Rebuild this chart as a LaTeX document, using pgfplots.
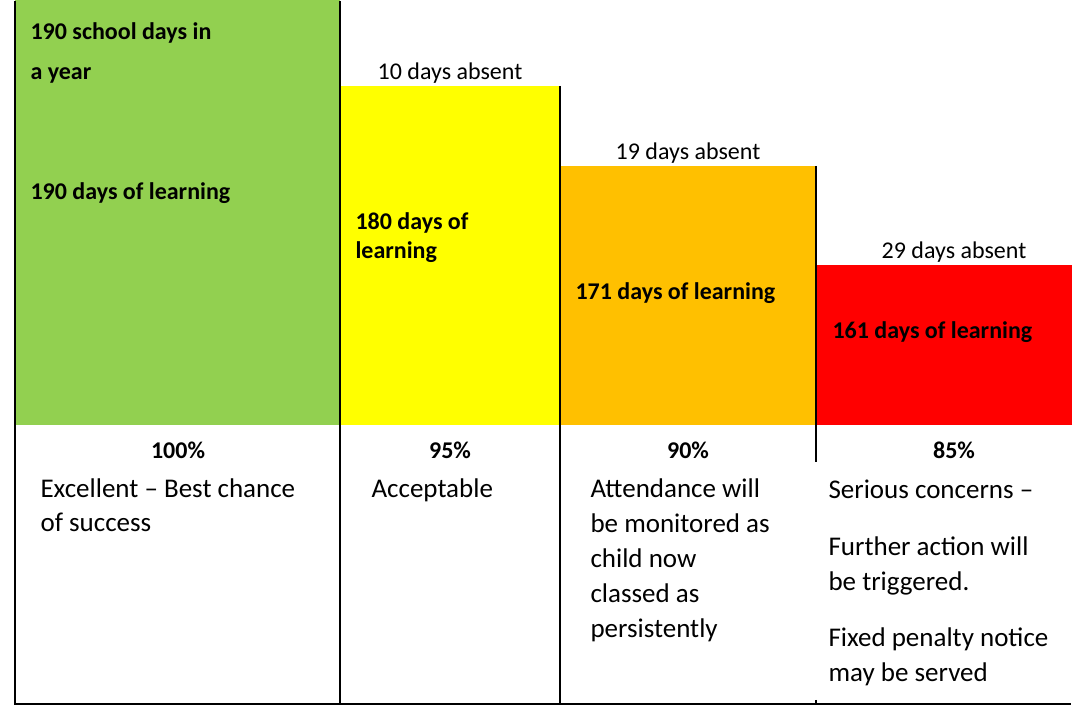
\documentclass[border=0pt]{standalone}
\usepackage{pgfplots}
\pgfplotsset{compat=1.18}
\usepackage{fontspec}
\setmainfont{Carlito}
\definecolor{cgreen}{HTML}{92D050}
\definecolor{cyellow}{HTML}{FFFF00}
\definecolor{corange}{HTML}{FFC000}
\definecolor{cred}{HTML}{FF0000}
\begin{document}
\begin{tikzpicture}
\begin{axis}[width=1072pt,height=706pt,scale only axis,hide axis,
  xmin=0,xmax=1072,ymin=-281,ymax=425,clip=true,
  every node/.style={inner sep=0pt,outer sep=0pt}]
% bars: height above the base line (base = bottom of the coloured blocks)
\addplot[ybar interval, fill=cgreen, draw=none] coordinates {(15,425) (340,425)};
\addplot[ybar interval, fill=cyellow, draw=none] coordinates {(340,339) (560,339)};
\addplot[ybar interval, fill=corange, draw=none] coordinates {(560,259) (816,259)};
\addplot[ybar interval, fill=cred, draw=none] coordinates {(816,160) (1072,160)};
% table rules
\addplot[black, line width=2pt] coordinates {(15,424) (15,-280)};
\addplot[black, line width=2pt] coordinates {(340,424) (340,-280)};
\addplot[black, line width=1.8pt] coordinates {(560,339) (560,-280)};
\addplot[black, line width=1.5pt] coordinates {(816,259) (816,-37)};
\addplot[black, line width=1.5pt] coordinates {(816,-275) (816,-280)};
\addplot[black, line width=2pt] coordinates {(15,-279.5) (1071,-279.5)};
% bar texts
\def\bl{\fontsize{24}{29}\selectfont\bfseries}
\def\ab{\fontsize{24}{29}\selectfont}
\def\ds{\fontsize{27}{32}\selectfont}
\node[anchor=base west,font=\bl] at (axis cs:27,385) {190 school days in};
\node[anchor=base west,font=\bl] at (axis cs:27,345) {a year};
\node[anchor=base west,font=\bl] at (axis cs:27,225) {190 days of learning};
\node[anchor=base,font=\ab] at (axis cs:450,345) {10 days absent};
\node[anchor=base west,font=\bl] at (axis cs:352,195) {180 days of};
\node[anchor=base west,font=\bl] at (axis cs:352,166) {learning};
\node[anchor=base,font=\ab] at (axis cs:688,265) {19 days absent};
\node[anchor=base west,font=\bl] at (axis cs:572,125) {171 days of learning};
\node[anchor=base,font=\ab] at (axis cs:954,166) {29 days absent};
\node[anchor=base west,font=\bl] at (axis cs:829,86) {161 days of learning};
% percentages
\node[anchor=base,font=\ab\bfseries] at (axis cs:178,-34) {100\%};
\node[anchor=base,font=\ab\bfseries] at (axis cs:450,-34) {95\%};
\node[anchor=base,font=\ab\bfseries] at (axis cs:688,-34) {90\%};
\node[anchor=base,font=\ab\bfseries] at (axis cs:954,-34) {85\%};
% descriptions
\node[anchor=base west,font=\ds] at (axis cs:37,-73) {Excellent – Best chance};
\node[anchor=base west,font=\ds] at (axis cs:37,-107) {of success};
\node[anchor=base west,font=\ds] at (axis cs:368,-73) {Acceptable};
\node[anchor=base west,font=\ds] at (axis cs:587,-73) {Attendance will};
\node[anchor=base west,font=\ds] at (axis cs:587,-108) {be monitored as};
\node[anchor=base west,font=\ds] at (axis cs:587,-143) {child now};
\node[anchor=base west,font=\ds] at (axis cs:587,-178) {classed as};
\node[anchor=base west,font=\ds] at (axis cs:587,-213) {persistently};
\node[anchor=base west,font=\ds] at (axis cs:825,-74) {Serious concerns –};
\node[anchor=base west,font=\ds] at (axis cs:825,-131) {Further action will};
\node[anchor=base west,font=\ds] at (axis cs:825,-166) {be triggered.};
\node[anchor=base west,font=\ds] at (axis cs:825,-222) {Fixed penalty notice};
\node[anchor=base west,font=\ds] at (axis cs:825,-257) {may be served};
\end{axis}
\path (current axis.south west) rectangle (current axis.north east);
\end{tikzpicture}
\end{document}
